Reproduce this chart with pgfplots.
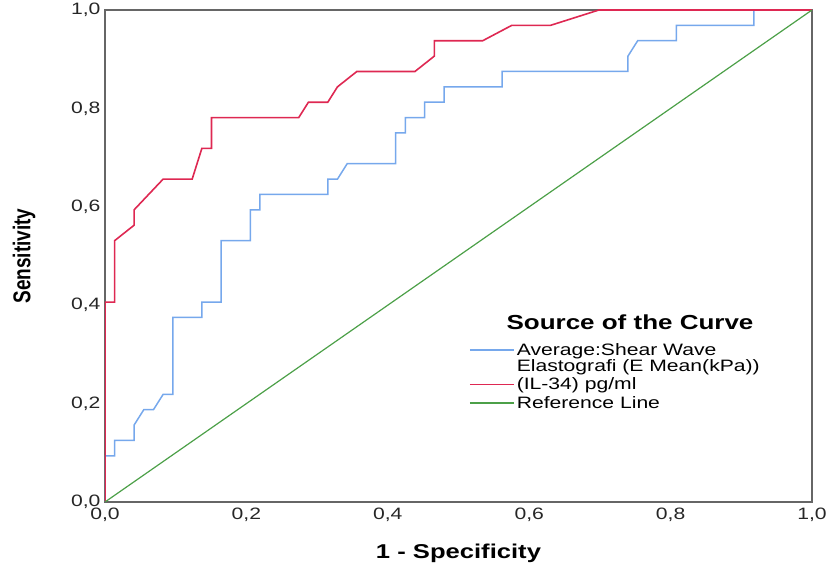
\documentclass[border=0pt]{standalone}
\usepackage{pgfplots}
\pgfplotsset{compat=1.18}
\usepackage{fontspec}
\setmainfont{Liberation Sans}
\newfontfamily\wide{Liberation Sans}[FakeStretch=1.28]
\definecolor{cblue}{RGB}{118,168,236}
\definecolor{cred}{RGB}{222,40,82}
\definecolor{cgreen}{RGB}{76,160,72}
\begin{document}
\begin{tikzpicture}[x=1pt,y=1pt]
\useasboundingbox (-105,-68) rectangle (726,502);
\begin{axis}[
  at={(0,0)}, anchor=south west,
  scale only axis, width=707pt, height=492pt,
  xmin=0, xmax=1, ymin=0, ymax=1,
  xtick={0,0.2,0.4,0.6,0.8,1.0}, ytick={0,0.2,0.4,0.6,0.8,1.0},
  xticklabels={{0,0},{0,2},{0,4},{0,6},{0,8},{1,0}},
  yticklabels={{0,0},{0,2},{0,4},{0,6},{0,8},{1,0}},
  major tick length=0pt,
  tick label style={font=\wide\fontsize{16.5}{18}\selectfont, text=black!85},
  xticklabel style={yshift=-2pt},
  yticklabel style={xshift=-1pt},
  axis line style={draw=black!60, line width=1.3pt},
  xlabel={\wide\bfseries 1 - Specificity},
  ylabel={\scalebox{1}[1.28]{\bfseries Sensitivity}},
  xlabel style={at={(axis description cs:0.5,-0.1037)}, anchor=center, font=\fontsize{20}{20}\selectfont},
  ylabel style={at={(axis description cs:-0.1146,0.5)}, anchor=center, font=\fontsize{19}{20}\selectfont},
  legend style={draw=none, fill=none, at={(axis cs:0.5106,0.331)}, anchor=north west,
    font=\wide\fontsize{16.5}{16}\selectfont, nodes={align=left}, row sep=1pt},
  legend cell align=left,
  legend image code/.code={\draw[#1] (0pt,0pt) -- (44pt,0pt);},
]
\addplot[cblue, line width=1.5pt, legend image post style={yshift=8pt}] coordinates {
(0,0) (0,0.09375) (0.0137,0.09375) (0.0137,0.125) (0.0411,0.125) (0.0411,0.15625)
(0.0548,0.1875) (0.0685,0.1875) (0.0822,0.21875) (0.0959,0.21875) (0.0959,0.375)
(0.1370,0.375) (0.1370,0.40625) (0.1644,0.40625) (0.1644,0.53125) (0.2055,0.53125)
(0.2055,0.59375) (0.2192,0.59375) (0.2192,0.625) (0.3151,0.625) (0.3151,0.65625)
(0.3288,0.65625) (0.3425,0.6875) (0.4110,0.6875) (0.4110,0.75) (0.4247,0.75)
(0.4247,0.78125) (0.4521,0.78125) (0.4521,0.8125) (0.4795,0.8125) (0.4795,0.84375)
(0.5616,0.84375) (0.5616,0.875) (0.7397,0.875) (0.7397,0.90625) (0.7534,0.9375)
(0.8082,0.9375) (0.8082,0.96875) (0.9178,0.96875) (0.9178,1) (1,1)};
\addlegendentry{Average:Shear Wave\\Elastografi (E Mean(kPa))}
\addplot[cred, line width=1.6pt] coordinates {
(0,0) (0,0.40625) (0.0137,0.40625) (0.0137,0.53125) (0.0411,0.5625) (0.0411,0.59375)
(0.0822,0.65625) (0.1233,0.65625) (0.1370,0.71875) (0.1507,0.71875) (0.1507,0.78125)
(0.2740,0.78125) (0.2877,0.8125) (0.3151,0.8125) (0.3288,0.84375) (0.3562,0.875)
(0.4384,0.875) (0.4658,0.90625) (0.4658,0.9375) (0.5342,0.9375) (0.5753,0.96875)
(0.6301,0.96875) (0.6986,1) (1,1)};
\addlegendentry{(IL-34) pg/ml}
\addplot[cgreen, line width=1.2pt] coordinates {(0,0) (1,1)};
\addlegendentry{Reference Line}
\node[anchor=west, font=\wide\bfseries\fontsize{20.3}{20}\selectfont] at (axis cs:0.563,0.366) {Source of the Curve};
\end{axis}
\end{tikzpicture}
\end{document}
